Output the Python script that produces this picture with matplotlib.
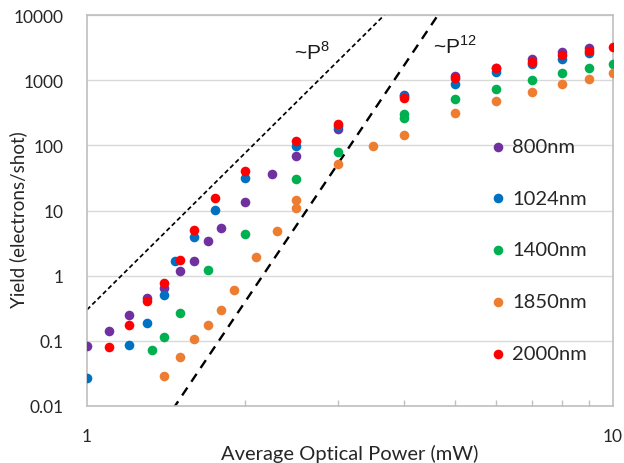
import matplotlib
matplotlib.use("Agg")
import matplotlib.pyplot as plt
import numpy as np
from matplotlib.ticker import FixedLocator, NullFormatter, NullLocator

plt.rcParams['font.family'] = ['Lato', 'DejaVu Sans']

# ---- data ----
labels = ["800nm", "1024nm", "1400nm", "1850nm", "2000nm"]
colors = ["#7030A0", "#0070C0", "#00B050", "#ED7D31", "#FF0000"]

p_800 = [1.0, 1.1, 1.2, 1.3, 1.4, 1.5, 1.6, 1.7, 1.8, 2.0, 2.25, 2.5, 3, 4, 5, 6, 7, 8, 9]
y_800 = [0.084, 0.143, 0.252, 0.45, 0.64, 1.18, 1.68, 3.44, 5.33, 13.5, 36.7, 68.6, 178, 600, 1146, 1550, 2113, 2675, 3084]

p_1024 = [1.0, 1.2, 1.3, 1.4, 1.47, 1.6, 1.75, 2.0, 2.5, 3, 4, 5, 6, 7, 8, 9]
y_1024 = [0.027, 0.086, 0.188, 0.51, 1.70, 3.96, 10.3, 32, 98, 200, 578, 873, 1318, 1771, 2113, 2612]

p_1400 = [1.33, 1.4, 1.5, 1.7, 2.0, 2.5, 3, 4, 4, 5, 6, 7, 8, 9, 10]
y_1400 = [0.073, 0.116, 0.27, 1.22, 4.3, 30, 80, 303, 263, 520, 732, 1006, 1288, 1521, 1750]

p_1850 = [1.4, 1.5, 1.6, 1.7, 1.8, 1.9, 2.1, 2.3, 2.5, 2.5, 3, 3.5, 4, 5, 6, 7, 8, 9, 10]
y_1850 = [0.0286, 0.057, 0.107, 0.177, 0.294, 0.60, 1.95, 4.8, 14.4, 10.9, 52, 98, 144, 310, 479, 665, 873, 1042, 1274]

p_2000 = [1.1, 1.2, 1.3, 1.4, 1.5, 1.6, 1.75, 2.0, 2.5, 3, 4, 5, 6, 7, 8, 9, 10]
y_2000 = [0.081, 0.175, 0.41, 0.76, 1.74, 4.97, 15.4, 40, 115, 212, 532, 1067, 1521, 1922, 2433, 2833, 3266]

series_x = [p_800, p_1024, p_1400, p_1850, p_2000]
series_y = [y_800, y_1024, y_1400, y_1850, y_2000]

# guide power laws: y = a * (P / P0)^n
p8_coef, p8_exp = 0.3, 8
p12_p0, p12_coef, p12_exp = 1.47, 0.01, 12

y_ticks = [0.01, 0.1, 1, 10, 100, 1000, 10000]
y_ticklabels = ["0.01", "0.1", "1", "10", "100", "1000", "10000"]
x_ticks = [1, 10]
x_ticklabels = ["1", "10"]

# ---- figure ----
fig = plt.figure(figsize=(6.24, 4.64), dpi=100)
ax = fig.add_axes([87/624, 57/464, 526/624, 391/464])
ax.set_xscale('log')
ax.set_yscale('log')
ax.set_xlim(1, 10)
ax.set_ylim(0.01, 10000)

ax.set_yticks(y_ticks)
ax.set_yticklabels(y_ticklabels)
ax.yaxis.set_minor_locator(NullLocator())
ax.set_xticks(x_ticks)
ax.set_xticklabels(x_ticklabels)
ax.xaxis.set_minor_locator(FixedLocator([2, 3, 4, 5, 6, 7, 8, 9]))
ax.xaxis.set_minor_formatter(NullFormatter())

ax.grid(axis='y', which='major', color='#d9d9d9', linewidth=1.0)
ax.set_axisbelow(True)
for s in ax.spines.values():
    s.set_color('#bfbfbf')
    s.set_linewidth(1.2)
ax.tick_params(axis='y', which='both', length=0, pad=17, labelsize=12.5, labelcolor='#262626')
ax.tick_params(axis='x', which='major', length=0, pad=16, labelsize=12.5, labelcolor='#262626')
ax.tick_params(axis='x', which='minor', direction='in', length=4, width=1.0, color='#bfbfbf')

# guide lines
pp = np.logspace(0, 1, 400)
ax.plot(pp, p8_coef * pp**p8_exp, color='black', linestyle=(0, (2.6, 1.7)), linewidth=1.25)
ax.plot(pp, p12_coef * (pp / p12_p0)**p12_exp, color='black', linestyle=(0, (4, 3)), linewidth=1.7)

for xs, ys, c, lab in zip(series_x, series_y, colors, labels):
    ax.scatter(xs, ys, s=48, color=c, label=lab, linewidths=0, zorder=3)

ax.text(0.3935, 0.8875, r'~P$^{\mathregular{8}}$', transform=ax.transAxes, fontsize=15,
        family='Liberation Sans', va='baseline', ha='left', color='#1a1a1a')
ax.text(0.658, 0.903, r'~P$^{\mathregular{12}}$', transform=ax.transAxes, fontsize=15,
        family='Liberation Sans', va='baseline', ha='left', color='#1a1a1a')

leg = ax.legend(loc='upper left', bbox_to_anchor=(0.762, 0.686), frameon=False,
                fontsize=14.5, labelspacing=1.72, handletextpad=0.2, markerscale=1.0,
                handlelength=1.0, borderaxespad=0, borderpad=0)
for t in leg.get_texts():
    t.set_color('#262626')

ax.set_xlabel('Average Optical Power (mW)', fontsize=14.5, color='#262626')
ax.set_ylabel('Yield (electrons/shot)', fontsize=13.5, color='#262626')
ax.xaxis.set_label_coords(0.5, -0.120)
ax.yaxis.set_label_coords(-0.131, 0.48)
ax.xaxis.label.set_va('center')
ax.yaxis.label.set_va('center')

fig.savefig('out.png', dpi=100)
